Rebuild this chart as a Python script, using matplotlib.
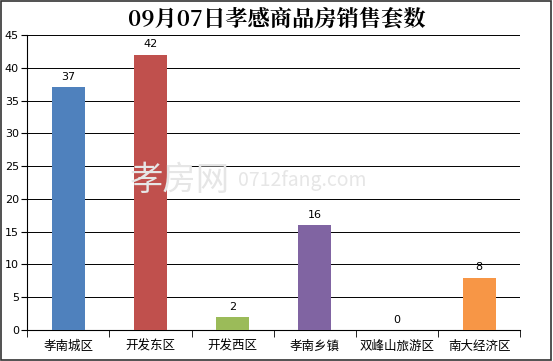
import matplotlib.pyplot as plt
import numpy as np
from matplotlib.patches import Rectangle

plt.rcParams['font.family'] = ['Noto Sans CJK SC', 'DejaVu Sans']

districts = ['孝南城区', '开发东区', '开发西区', '孝南乡镇', '双峰山旅游区', '南大经济区']
sales = [37, 42, 2, 16, 0, 8]
colors = ['#4F81BD', '#C0504D', '#9BBB59', '#8064A2', '#4BACC6', '#F79646']
title = '09月07日孝感商品房销售套数'

fig = plt.figure(figsize=(5.53, 3.61), dpi=100)
ax = fig.add_axes([0.049, 0.086, 0.892, 0.817])

x = np.arange(len(districts))
bars = ax.bar(x, sales, width=0.4, color=colors, zorder=3)
for xi, v in zip(x, sales):
    ax.text(xi, v + 0.8, str(v), ha='center', va='bottom', fontsize=8,
            family='DejaVu Sans')

ax.set_xlim(-0.5, len(districts) - 0.5)
ax.set_ylim(0, 45)
ax.set_yticks(range(0, 46, 5))
ax.set_xticks(x)
ax.set_xticklabels(districts, fontsize=9)
ax.set_xticks(np.arange(-0.5, len(districts)), minor=True)
ax.tick_params(axis='x', which='major', length=0, pad=7)
ax.tick_params(axis='x', which='minor', length=5, direction='out')
ax.tick_params(axis='y', labelsize=8, length=4, direction='out', pad=2)
for lbl in ax.get_yticklabels():
    lbl.set_family('DejaVu Sans')

ax.grid(axis='y', color='black', linewidth=0.7, zorder=0)
for s in ['top', 'right']:
    ax.spines[s].set_visible(False)
ax.spines['left'].set_color('black')
ax.spines['bottom'].set_color('black')

# faint watermark
fig.text(0.235, 0.5, '孝房网', fontsize=24, color='#e6e6e6',
         ha='left', va='center', zorder=0)
fig.text(0.43, 0.5, '0712fang.com', fontsize=14, color='#e6e6e6',
         ha='left', va='center', zorder=0)

fig.text(0.5, 0.945, title, ha='center', va='center', fontsize=16,
         fontweight='bold', family=['Noto Serif CJK SC', 'Noto Sans CJK SC', 'DejaVu Serif'])

fig.patches.append(Rectangle((0.002, 0.003), 0.995, 0.994, transform=fig.transFigure,
                             fill=False, edgecolor='#333333', linewidth=1.2))

fig.savefig('out.png', dpi=100)
